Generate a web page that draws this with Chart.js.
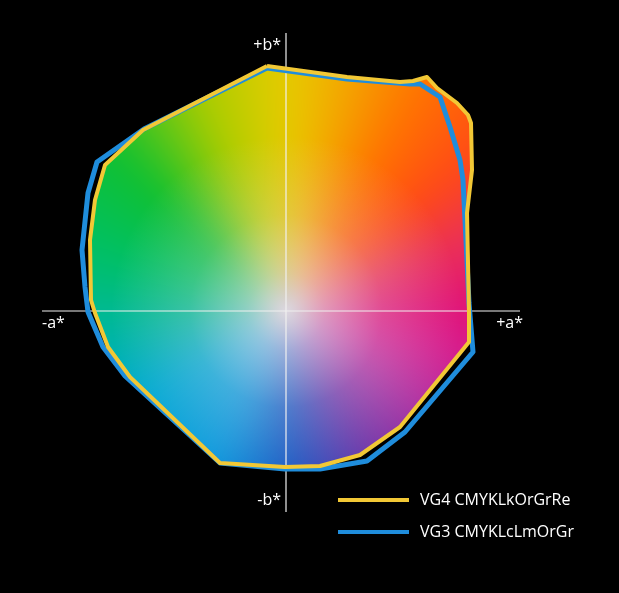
<!DOCTYPE html>
<html lang="en">
<head>
    <meta charset="UTF-8">
    <title>Gamut comparison a*b*</title>
    <script src="https://cdn.jsdelivr.net/npm/chart.js"></script>
    <style>
        body {
            margin: 0;
            background-color: #000;
        }
        #gamutChart {
            display: block;
        }
    </style>
</head>
<body>
    <canvas id="gamutChart" width="619" height="593"></canvas>

    <script>
        const seriesNames = ['VG4 CMYKLkOrGrRe', 'VG3 CMYKLcLmOrGr'];
        const seriesColors = ['#f2c835', '#1f8ddc'];

        // VG4 outline (a*, b*), clockwise from the top
        const vg4A = [-9.5, 30.5, 57, 63.5, 70.5, 75.5, 85.5, 91, 92.5, 93, 90.5, 91.5, 91.5, 57, 37, 17, -0.5, -33, -78, -89, -95.5, -97.5, -98, -95.5, -90.5, -71.5];
        const vg4B = [122.5, 117, 114.5, 115, 117, 111.5, 104, 98, 94, 70.5, 49, -1, -15.5, -58, -72, -77.5, -78, -76, -33, -18, -1, 5.5, 35.5, 55.5, 73, 90.5];

        // VG3 outline (a*, b*)
        const vg3A = [-9.5, 30.5, 62, 67, 77, 82, 87, 88.5, 89.5, 91.5, 93.5, 59.5, 40.5, 17, -0.5, -33, -80.5, -91.5, -99, -100.5, -102, -99, -94.5, -71];
        const vg3B = [121.5, 116, 113.5, 113.5, 107, 92, 75.5, 65.5, 45.5, 4, -20.5, -60.5, -75, -79, -79, -76, -32.5, -18, -0.5, 12, 30.5, 59, 74.5, 91];

        // axis lines
        const axisA = [-122, 117];
        const axisB = [-100.5, 139];
        const axisLabels = ['+b*', '-b*', '-a*', '+a*'];

        function toPoints(as, bs, close) {
            const pts = as.map((a, i) => ({ x: a, y: bs[i] }));
            if (close) pts.push({ x: as[0], y: bs[0] });
            return pts;
        }

        const fontFamily = '"Open Sans", "Noto Sans", sans-serif';

        // fills the VG4 outline with a hue wheel that fades to grey at the centre
        const gamutFill = {
            id: 'gamutFill',
            beforeDatasetsDraw(chart) {
                const meta = chart.getDatasetMeta(0);
                const ctx = chart.ctx;
                const cx = chart.scales.x.getPixelForValue(0);
                const cy = chart.scales.y.getPixelForValue(0);
                ctx.save();
                ctx.beginPath();
                meta.data.forEach((p, i) => {
                    if (i === 0) ctx.moveTo(p.x, p.y); else ctx.lineTo(p.x, p.y);
                });
                ctx.closePath();
                ctx.clip();

                const conic = ctx.createConicGradient(0, cx, cy);
                conic.addColorStop(0.0, '#e0127a');
                conic.addColorStop(0.04, '#d62090');
                conic.addColorStop(0.09, '#b52ea0');
                conic.addColorStop(0.17, '#6a34a8');
                conic.addColorStop(0.245, '#1656c2');
                conic.addColorStop(0.32, '#0d9ade');
                conic.addColorStop(0.415, '#00a9d4');
                conic.addColorStop(0.49, '#00b89a');
                conic.addColorStop(0.55, '#00c064');
                conic.addColorStop(0.62, '#10c030');
                conic.addColorStop(0.69, '#a8cc00');
                conic.addColorStop(0.75, '#e6cc00');
                conic.addColorStop(0.785, '#f2ac00');
                conic.addColorStop(0.835, '#ff7400');
                conic.addColorStop(0.89, '#ff4a16');
                conic.addColorStop(0.94, '#ea3058');
                conic.addColorStop(1.0, '#e0127a');
                ctx.filter = 'blur(16px)';
                ctx.fillStyle = conic;
                ctx.fillRect(-40, -40, chart.width + 80, chart.height + 80);
                ctx.filter = 'none';

                const radial = ctx.createRadialGradient(cx, cy, 0, cx, cy, 175);
                radial.addColorStop(0, 'rgba(228,222,232,0.93)');
                radial.addColorStop(0.22, 'rgba(228,222,232,0.62)');
                radial.addColorStop(0.55, 'rgba(228,222,232,0.25)');
                radial.addColorStop(1, 'rgba(228,222,232,0)');
                ctx.fillStyle = radial;
                ctx.fillRect(0, 0, chart.width, chart.height);
                ctx.restore();
            }
        };

        // axis names and the legend
        const gamutText = {
            id: 'gamutText',
            afterDatasetsDraw(chart) {
                const ctx = chart.ctx;
                const xs = chart.scales.x;
                const ys = chart.scales.y;
                const x0 = xs.getPixelForValue(0);
                const y0 = ys.getPixelForValue(0);
                const top = ys.getPixelForValue(axisB[1]);
                const bottom = ys.getPixelForValue(axisB[0]);
                const left = xs.getPixelForValue(axisA[0]);
                const right = xs.getPixelForValue(axisA[1]);

                ctx.save();
                ctx.fillStyle = '#ffffff';
                ctx.font = '16px ' + fontFamily;
                ctx.textBaseline = 'middle';
                ctx.textAlign = 'right';
                ctx.fillText(axisLabels[0], x0 - 5, top + 12);
                ctx.fillText(axisLabels[1], x0 - 5, bottom - 12);
                ctx.textAlign = 'left';
                ctx.fillText(axisLabels[2], left, y0 + 12);
                ctx.textAlign = 'right';
                ctx.fillText(axisLabels[3], right + 3, y0 + 12);

                // legend
                const lx = 338, lw = 71, ly = 500, gap = 32;
                seriesNames.forEach((name, i) => {
                    const y = ly + i * gap;
                    ctx.strokeStyle = seriesColors[i];
                    ctx.lineWidth = 4;
                    ctx.beginPath();
                    ctx.moveTo(lx, y);
                    ctx.lineTo(lx + lw, y);
                    ctx.stroke();
                    ctx.textAlign = 'left';
                    ctx.fillStyle = '#ffffff';
                    ctx.fillText(name, lx + lw + 11, y);
                });
                ctx.restore();
            }
        };

        new Chart(document.getElementById('gamutChart'), {
            type: 'scatter',
            data: {
                datasets: [
                    {
                        label: seriesNames[0],
                        data: toPoints(vg4A, vg4B, true),
                        showLine: true,
                        borderColor: seriesColors[0],
                        borderWidth: 4,
                        borderJoinStyle: 'round',
                        pointRadius: 0,
                        fill: false,
                        order: 1
                    },
                    {
                        label: seriesNames[1],
                        data: toPoints(vg3A, vg3B, true),
                        showLine: true,
                        borderColor: seriesColors[1],
                        borderWidth: 5,
                        borderJoinStyle: 'round',
                        pointRadius: 0,
                        fill: false,
                        order: 2
                    },
                    {
                        label: 'a*',
                        data: [{ x: axisA[0], y: 0 }, { x: axisA[1], y: 0 }],
                        showLine: true,
                        borderColor: '#f0f0f0',
                        borderWidth: 1.2,
                        pointRadius: 0,
                        order: 3
                    },
                    {
                        label: 'b*',
                        data: [{ x: 0, y: axisB[0] }, { x: 0, y: axisB[1] }],
                        showLine: true,
                        borderColor: '#f0f0f0',
                        borderWidth: 1.2,
                        pointRadius: 0,
                        order: 3
                    }
                ]
            },
            options: {
                responsive: false,
                devicePixelRatio: 1,
                animation: false,
                layout: { padding: 0 },
                scales: {
                    x: { type: 'linear', min: -143, max: 166.5, display: false },
                    y: { type: 'linear', min: -141, max: 155.5, display: false }
                },
                plugins: {
                    legend: { display: false },
                    tooltip: { enabled: false }
                }
            },
            plugins: [gamutFill, gamutText]
        });
    </script>
</body>
</html>
